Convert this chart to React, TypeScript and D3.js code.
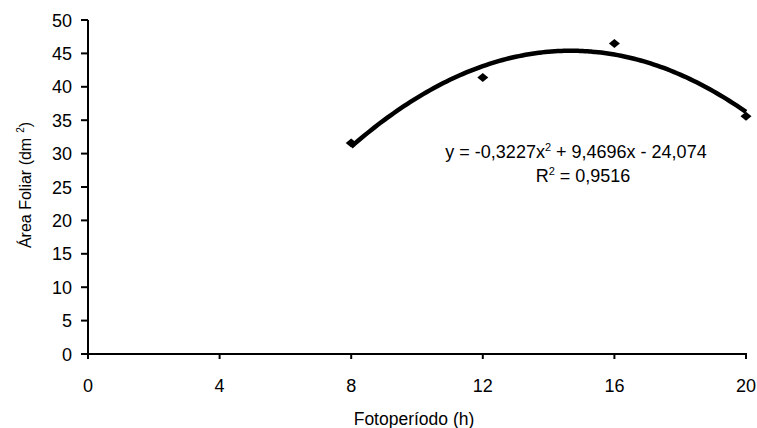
import React from "react";
import * as d3 from "d3";

// Observed leaf area per photoperiod
const photoperiods = [8, 12, 16, 20];
const leafArea = [31.6, 41.4, 46.5, 35.6];

// Quadratic trend line coefficients (y = a x² + b x + c)
const coefA = -0.3227;
const coefB = 9.4696;
const coefC = -24.074;

const xTicks = [0, 4, 8, 12, 16, 20];
const yTicks = [0, 5, 10, 15, 20, 25, 30, 35, 40, 45, 50];

const equationText = "y = -0,3227x";
const equationRest = "  + 9,4696x - 24,074";
const r2Value = " = 0,9516";

const W = 757;
const H = 428;
const FONT = "'Liberation Sans', Arial, sans-serif";

export default function App() {
  const x = d3.scaleLinear().domain([0, 20]).range([88, 746]);
  const y = d3.scaleLinear().domain([0, 50]).range([354, 20]);

  const trendX = d3.range(8, 20.0001, 0.1);
  const trend = d3
    .line<number>()
    .x((d) => x(d))
    .y((d) => y(coefA * d * d + coefB * d + coefC))
    .curve(d3.curveMonotoneX)(trendX);

  const diamond = (cx: number, cy: number) =>
    `M${cx - 5.5},${cy} L${cx},${cy - 4.5} L${cx + 5.5},${cy} L${cx},${cy + 4.5} Z`;

  return (
    <svg
      width={W}
      height={H}
      style={{ position: "absolute", left: 0, top: 0, background: "#fff" }}
      fontFamily={FONT}
    >
      <rect width={W} height={H} fill="#fff" />
      {/* axes */}
      <line x1={x(0)} x2={x(0)} y1={y(50)} y2={y(0)} stroke="#000" strokeWidth={2} />
      <line x1={x(0) - 1} x2={x(20) + 1} y1={y(0)} y2={y(0)} stroke="#000" strokeWidth={2} />
      {yTicks.map((t) => (
        <g key={"y" + t}>
          <line x1={x(0) - 7} x2={x(0)} y1={y(t)} y2={y(t)} stroke="#000" strokeWidth={2} />
          <text
            x={72}
            y={y(t) + 6.5}
            textAnchor="end"
            fontSize={18}
            fill="#000"
          >
            {t}
          </text>
        </g>
      ))}
      {xTicks.map((t) => (
        <g key={"x" + t}>
          <line x1={x(t)} x2={x(t)} y1={y(0)} y2={y(0) + 5} stroke="#000" strokeWidth={2} />
          <text x={x(t)} y={392} textAnchor="middle" fontSize={18} fill="#000">
            {t}
          </text>
        </g>
      ))}
      {/* axis titles */}
      <text x={414} y={425} textAnchor="middle" fontSize={17.5} fill="#000">
        Fotoperíodo (h)
      </text>
      <text
        transform="translate(31,185) rotate(-90)"
        textAnchor="middle"
        fontSize={16}
        fill="#000"
      >
        Área Foliar (dm
        <tspan dx={5} dy={-7} fontSize={10}>2</tspan>
        <tspan dy={7}>)</tspan>
      </text>
      {/* trend line */}
      <path d={trend ?? ""} fill="none" stroke="#000" strokeWidth={4.5} strokeLinejoin="round" />
      {/* observations */}
      {photoperiods.map((p, i) => (
        <path key={"p" + p} d={diamond(x(p), y(leafArea[i]))} fill="#000" />
      ))}
      {/* equation */}
      <text x={576} y={158} textAnchor="middle" fontSize={18} fill="#000">
        {equationText}
        <tspan dy={-7} fontSize={11}>2</tspan>
        <tspan dy={7}>{equationRest}</tspan>
      </text>
      <text x={583} y={182} textAnchor="middle" fontSize={18} fill="#000">
        R
        <tspan dy={-7} fontSize={11}>2</tspan>
        <tspan dy={7}>{r2Value}</tspan>
      </text>
    </svg>
  );
}
